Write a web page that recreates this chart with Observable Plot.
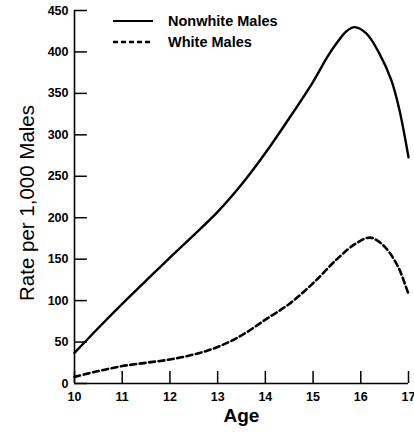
<!DOCTYPE html>
<html>
<head>
<meta charset="utf-8">
<script src="https://cdn.jsdelivr.net/npm/d3@7"></script>
<script src="https://cdn.jsdelivr.net/npm/@observablehq/plot@0.6"></script>
<style>
  html, body { margin: 0; padding: 0; background: #fff; }
  #wrap { position: relative; width: 414px; height: 433px; font-family: "Liberation Sans", Arial, sans-serif; }
  #legend { position: absolute; left: 0; top: 0; pointer-events: none; }
</style>
</head>
<body>
<div id="wrap"></div>
<script>
// ---- data ----
const nonwhiteAges = [10, 10.5, 11, 11.5, 12, 12.5, 13, 13.5, 14, 14.5, 15, 15.3, 15.5, 15.7, 15.87, 16.12, 16.39, 16.64, 16.81, 17];
const nonwhiteRates = [37, 67, 96, 124, 152, 179, 207, 240, 278, 320, 364, 394, 411, 425, 430, 422, 398, 366, 330, 273];
const whiteAges = [10, 10.5, 11, 11.5, 12, 12.5, 13, 13.5, 14, 14.5, 15, 15.5, 15.9, 16.2, 16.5, 16.78, 16.95, 17];
const whiteRates = [8, 15, 21, 25, 29, 35, 44, 58, 77, 96, 121, 150, 169, 176, 165, 141, 116, 108];
const xTicks = [10, 11, 12, 13, 14, 15, 16, 17];
const yTicks = [0, 50, 100, 150, 200, 250, 300, 350, 400, 450];
const seriesNames = ["Nonwhite Males", "White Males"];
const xLabel = "Age";
const yLabel = "Rate per 1,000 Males";

const nonwhite = nonwhiteAges.map((a, i) => ({age: a, rate: nonwhiteRates[i]}));
const white = whiteAges.map((a, i) => ({age: a, rate: whiteRates[i]}));

const font = "Liberation Sans, Arial, sans-serif";

const chart = Plot.plot({
  width: 414,
  height: 433,
  marginLeft: 74,
  marginRight: 6,
  marginTop: 10,
  marginBottom: 50,
  style: {fontFamily: font, background: "#fff", color: "#000", overflow: "visible"},
  x: {domain: [10, 17]},
  y: {domain: [0, 450]},
  marks: [
    // tick labels
    Plot.axisX({ticks: xTicks, tickSize: 0, tickPadding: 9, fontSize: 12.5, fontWeight: "bold", label: null, tickFormat: d => String(d)}),
    Plot.axisY({ticks: yTicks, tickSize: 0, tickPadding: 6, fontSize: 12.5, fontWeight: "bold", label: null, tickFormat: d => String(d)}),
    // inward ticks
    Plot.ruleX(xTicks, {x: d => d, y1: 0, y2: 14.5, stroke: "#000", strokeWidth: 1.5}),
    Plot.ruleY(yTicks, {y: d => d, x1: 10, x2: 10.27, stroke: "#000", strokeWidth: 1.5}),
    // axis lines
    Plot.ruleX([10], {y1: 0, y2: 450, stroke: "#000", strokeWidth: 1.6}),
    Plot.ruleY([0], {x1: 10, x2: 17, stroke: "#000", strokeWidth: 1.6}),
    // series
    Plot.line(nonwhite, {x: "age", y: "rate", curve: "catmull-rom", stroke: "#000", strokeWidth: 2.4}),
    Plot.line(white, {x: "age", y: "rate", curve: "catmull-rom", stroke: "#000", strokeWidth: 2.6, strokeDasharray: "6,3.5"}),
    // axis titles
    Plot.text([xLabel], {frameAnchor: "bottom", text: d => d, dy: 38, fontSize: 19, fontWeight: "bold", fill: "#000"}),
    Plot.text([yLabel], {frameAnchor: "left", textAnchor: "middle", text: d => d, rotate: -90, dx: -47, dy: 6, fontSize: 20.5, fill: "#000"})
  ]
});

const wrap = document.getElementById("wrap");
wrap.appendChild(chart);

// legend overlay (inside plot area, top)
const ns = "http://www.w3.org/2000/svg";
const leg = document.createElementNS(ns, "svg");
leg.setAttribute("id", "legend");
leg.setAttribute("width", 414);
leg.setAttribute("height", 60);
const styles = [{dash: null, w: 2.2}, {dash: "5,3", w: 2.6}];
seriesNames.forEach((name, i) => {
  const y = 21 + i * 21;
  const ln = document.createElementNS(ns, "line");
  ln.setAttribute("x1", 113); ln.setAttribute("x2", 153);
  ln.setAttribute("y1", y); ln.setAttribute("y2", y);
  ln.setAttribute("stroke", "#000");
  ln.setAttribute("stroke-width", styles[i].w);
  if (styles[i].dash) ln.setAttribute("stroke-dasharray", styles[i].dash);
  leg.appendChild(ln);
  const t = document.createElementNS(ns, "text");
  t.setAttribute("x", 168); t.setAttribute("y", y);
  t.setAttribute("dy", "0.36em");
  t.setAttribute("font-family", font);
  t.setAttribute("font-size", 14.5);
  t.setAttribute("font-weight", "bold");
  t.textContent = name;
  leg.appendChild(t);
});
wrap.appendChild(leg);
</script>
</body>
</html>
